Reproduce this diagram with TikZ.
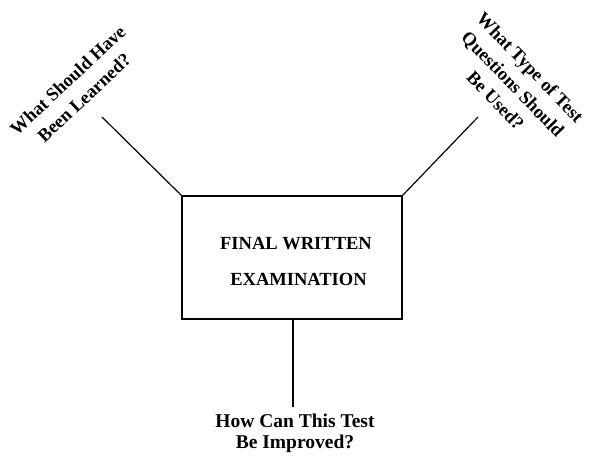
\documentclass[tikz,border=0pt]{standalone}
\usepackage{fontspec}
\setmainfont{Liberation Serif}
\usepackage{tikz}

\begin{document}
\begin{tikzpicture}[x=1pt, y=-1pt]
        \useasboundingbox (0,0) rectangle (589,458);

        \node (exam)    at (292,257.5) [draw, line width=1.7pt, minimum width=220pt, minimum height=123pt, align=center, font=\bfseries\fontsize{18.5}{20}\selectfont] {\hspace*{8pt}\rule{0pt}{19.5pt}FINAL WRITTEN\\[16pt]\hspace*{13pt}EXAMINATION};
        \node (learned) at (76,89)     [rotate=43,  align=center, font=\bfseries\fontsize{18.5}{24}\selectfont] {What Should Have\\Been Learned?};
        \node (type)    at (513,84)    [rotate=-46, align=center, font=\bfseries\fontsize{18.5}{24}\selectfont] {What Type of Test\\Questions Should\\Be Used?};
        \node (improve) at (295,433)   [align=center, font=\bfseries\fontsize{19.5}{21}\selectfont] {How Can This Test\\Be Improved?};

        \coordinate (lend) at (102,117);
        \coordinate (tend) at (478,117);
        \coordinate (iend) at (293,407);

        \draw[line width=1.2pt]   (exam.north west)   to   (lend);
        \draw[line width=1.2pt]   (exam.north east)   to   (tend);
        \draw[line width=1.2pt]   (exam.south)        ++(1,0) to (iend);
    \end{tikzpicture}
\end{document}
